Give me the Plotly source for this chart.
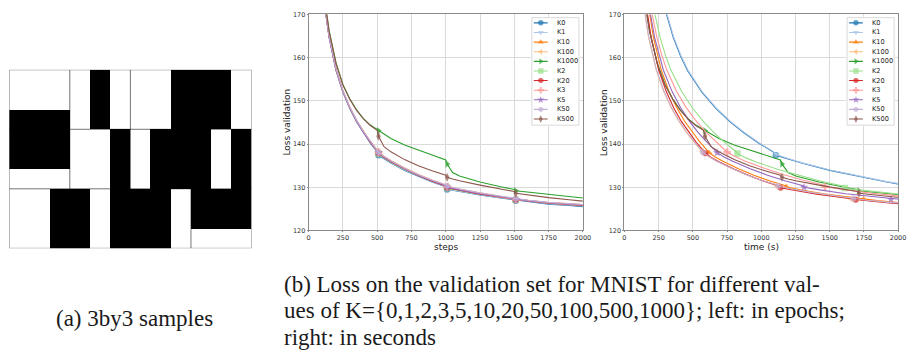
import plotly.graph_objects as go

W, H = 914, 353

# ---------------- data ----------------
STEPS = [100, 125, 150, 175, 200, 250, 300, 350, 400, 450, 500, 510, 550, 600, 700, 800,
         900, 1000, 1010, 1050, 1100, 1250, 1400, 1500, 1510, 1600, 1750, 1900, 2000]

SERIES = ["K0", "K1", "K10", "K100", "K1000", "K2", "K20", "K3", "K5", "K50", "K500"]

LOSS_K0 = [178.0, 170.2, 164.6, 160.4, 157.0, 152.0, 148.2, 145.1, 142.5, 140.2, 138.2, 137.4, 136.6, 135.6, 133.9, 132.5,
           131.2, 130.1, 129.5, 129.3, 129.0, 128.2, 127.5, 127.1, 126.9, 126.6, 126.1, 125.8, 125.5]
LOSS_K1 = [178.1, 170.3, 164.7, 160.5, 157.1, 152.1, 148.3, 145.2, 142.6, 140.3, 138.3, 137.6, 136.7, 135.7, 134.0, 132.6,
           131.3, 130.2, 129.7, 129.4, 129.1, 128.3, 127.6, 127.2, 127.0, 126.7, 126.2, 125.9, 125.7]
LOSS_K10 = [178.3, 170.4, 164.8, 160.7, 157.3, 152.3, 148.5, 145.4, 142.8, 140.5, 138.5, 138.0, 137.0, 136.0, 134.3, 132.8,
            131.5, 130.4, 130.1, 129.8, 129.4, 128.5, 127.8, 127.4, 127.2, 126.9, 126.4, 126.1, 125.9]
LOSS_K100 = [178.4, 170.5, 164.9, 160.8, 157.4, 152.4, 148.6, 145.5, 142.9, 140.7, 138.8, 138.3, 137.2, 136.2, 134.5, 133.0,
             131.7, 130.6, 130.3, 130.0, 129.6, 128.7, 127.9, 127.5, 127.3, 127.0, 126.5, 126.2, 126.0]
LOSS_K1000 = [180.0, 171.8, 166.2, 162.2, 158.8, 153.8, 150.5, 147.9, 145.9, 144.4, 143.4, 143.1, 142.2, 141.3, 139.8, 138.6,
              137.4, 136.3, 135.4, 133.4, 132.6, 131.2, 130.1, 129.5, 129.2, 128.9, 128.3, 127.8, 127.5]
LOSS_K2 = [178.2, 170.3, 164.7, 160.6, 157.2, 152.2, 148.4, 145.3, 142.7, 140.4, 138.4, 137.8, 136.8, 135.8, 134.1, 132.7,
           131.4, 130.3, 129.8, 129.5, 129.2, 128.4, 127.7, 127.3, 127.1, 126.8, 126.3, 126.0, 125.8]
LOSS_K20 = [178.2, 170.4, 164.8, 160.6, 157.2, 152.2, 148.4, 145.3, 142.7, 140.4, 138.4, 137.9, 136.9, 135.9, 134.2, 132.7,
            131.4, 130.3, 129.9, 129.6, 129.3, 128.4, 127.7, 127.3, 127.1, 126.8, 126.3, 126.0, 125.8]
LOSS_K3 = [178.3, 170.4, 164.8, 160.7, 157.3, 152.3, 148.5, 145.4, 142.8, 140.6, 138.6, 138.1, 137.1, 136.1, 134.4, 132.9,
           131.6, 130.5, 130.1, 129.8, 129.5, 128.6, 127.8, 127.4, 127.2, 126.9, 126.4, 126.1, 125.9]
LOSS_K5 = [178.2, 170.3, 164.7, 160.6, 157.2, 152.2, 148.4, 145.3, 142.7, 140.5, 138.5, 138.0, 137.0, 136.0, 134.3, 132.8,
           131.5, 130.4, 130.0, 129.7, 129.4, 128.5, 127.8, 127.4, 127.2, 126.9, 126.4, 126.1, 125.9]
LOSS_K50 = [178.4, 170.5, 164.9, 160.8, 157.4, 152.4, 148.6, 145.5, 142.9, 140.7, 138.7, 138.1, 137.1, 136.1, 134.4, 132.9,
            131.6, 130.6, 130.3, 130.0, 129.6, 128.7, 127.9, 127.5, 127.4, 127.0, 126.5, 126.2, 126.0]
LOSS_K500 = [179.8, 171.6, 166.0, 162.0, 158.6, 153.7, 150.4, 147.8, 145.8, 144.3, 143.2, 141.8, 139.4, 138.2, 136.4, 135.0,
             133.8, 132.8, 132.3, 131.9, 131.5, 130.5, 129.6, 129.0, 128.6, 128.2, 127.6, 127.1, 126.8]

LOSS = [LOSS_K0, LOSS_K1, LOSS_K10, LOSS_K100, LOSS_K1000, LOSS_K2,
        LOSS_K20, LOSS_K3, LOSS_K5, LOSS_K50, LOSS_K500]

# wall-clock: start offset (s) and seconds per step, per series
START_S = [46, 50, 42, 12, 15, 25, 30, 22, 30, 12, 15]
SEC_PER_STEP = [2.08, 2.075, 1.13, 1.09, 1.125, 1.57, 1.10, 1.43, 1.27, 1.10, 1.125]

MARK_STEPS = [510, 1010, 1510]

X_TICKS = [0, 250, 500, 750, 1000, 1250, 1500, 1750, 2000]
Y_TICKS = [120, 130, 140, 150, 160, 170]

# 3by3 binary samples: 3 rows x 4 columns of 3x3 images (1 = black)
SAMPLE_ROWS = [
    [0, 0, 0, 0, 1, 0, 0, 0, 1, 1, 1, 0],
    [0, 0, 0, 0, 1, 0, 0, 0, 1, 1, 1, 0],
    [1, 1, 1, 0, 1, 0, 0, 0, 1, 1, 1, 0],
    [1, 1, 1, 0, 0, 1, 0, 1, 1, 1, 0, 1],
    [1, 1, 1, 0, 0, 1, 0, 1, 1, 1, 0, 1],
    [0, 0, 0, 0, 0, 1, 0, 1, 1, 1, 0, 1],
    [0, 0, 1, 1, 0, 1, 1, 1, 0, 1, 1, 1],
    [0, 0, 1, 1, 0, 1, 1, 1, 0, 1, 1, 1],
    [0, 0, 1, 1, 0, 1, 1, 1, 0, 0, 0, 0],
]
SAMPLE_SIZE = 3

CAPTION_A = "(a) 3by3 samples"
CAPTION_B = ["(b) Loss on the validation set for MNIST for different val-",
             "ues of K={0,1,2,3,5,10,20,50,100,500,1000}; left: in epochs;",
             "right: in seconds"]

# ---------------- style ----------------
COLORS = ["#1f77b4", "#aec7e8", "#ff7f0e", "#ffbb78", "#2ca02c", "#98df8a",
          "#d62728", "#ff9896", "#9467bd", "#c5b0d5", "#8c564b"]
SYMBOLS = ["circle", "triangle-down", "triangle-up", "triangle-left", "triangle-right", "square",
           "octagon", "cross", "star", "hexagon", "diamond-tall"]


def px(x):
    return x / W


def py(y):
    return 1 - y / H


P1 = (310.0, 587.3)
P2 = (629.3, 906.0)
PT, PB = 10.7, 231.7

fig = go.Figure()

sizes = [6.5 if s in MARK_STEPS else 0 for s in STEPS]

for i, name in enumerate(SERIES):
    times = [START_S[i] + SEC_PER_STEP[i] * s for s in STEPS]
    for xs, xa, ya in ((STEPS, "x", "y"), (times, "x2", "y2")):
        fig.add_trace(go.Scatter(
            x=xs, y=LOSS[i], name=name, mode="lines+markers",
            line=dict(color=COLORS[i], width=1.1),
            marker=dict(symbol=SYMBOLS[i], size=sizes, color=COLORS[i], line=dict(width=0)),
            xaxis=xa, yaxis=ya, showlegend=False, hoverinfo="skip"))

# heatmap of samples
fig.add_trace(go.Heatmap(z=SAMPLE_ROWS, colorscale=[[0, "white"], [1, "black"]], zmin=0, zmax=1,
                         showscale=False, xaxis="x3", yaxis="y3", hoverinfo="skip"))

# custom legends (matplotlib-like compact legend boxes)
LEG_W, LEG_H = 47.6, 110.0
ROW0, ROWD = 5.3, 9.84
legend_axes = [("x4", "y4", P1[1] - 4 - LEG_W), ("x5", "y5", P2[1] - 4 - LEG_W)]
annotations = []
shapes = []
for xa, ya, left in legend_axes:
    for i, name in enumerate(SERIES):
        yy = ROW0 + ROWD * i
        fig.add_trace(go.Scatter(
            x=[2, 9, 16], y=[yy, yy, yy], mode="lines+markers",
            line=dict(color=COLORS[i], width=1.1),
            marker=dict(symbol=SYMBOLS[i], size=[0, 5.5, 0], color=COLORS[i], line=dict(width=0)),
            xaxis=xa, yaxis=ya, showlegend=False, hoverinfo="skip"))
        annotations.append(dict(x=23, y=yy, xref=xa, yref=ya, text=name, showarrow=False,
                                xanchor="left", yanchor="middle",
                                font=dict(family="DejaVu Sans", size=6.6, color="#222")))
    shapes.append(dict(type="rect", xref=xa, yref=ya, x0=0, x1=LEG_W, y0=0, y1=LEG_H,
                       line=dict(color="#cfcfcf", width=0.8), fillcolor="rgba(255,255,255,0.9)",
                       layer="below"))

# sample separators
n_rows, n_cols = len(SAMPLE_ROWS), len(SAMPLE_ROWS[0])
sep_line = dict(color="rgba(0,0,0,0.55)", width=1)
for k in range(1, n_cols // SAMPLE_SIZE):
    xv = k * SAMPLE_SIZE - 0.5
    shapes.append(dict(type="line", xref="x3", yref="y3", x0=xv, x1=xv, y0=-0.5, y1=n_rows - 0.5,
                       line=sep_line, layer="above"))
for k in range(1, n_rows // SAMPLE_SIZE):
    yv = k * SAMPLE_SIZE - 0.5
    shapes.append(dict(type="line", xref="x3", yref="y3", x0=-0.5, x1=n_cols - 0.5, y0=yv, y1=yv,
                       line=sep_line, layer="above"))
shapes.append(dict(type="rect", xref="x3", yref="y3", x0=-0.5, x1=n_cols - 0.5, y0=-0.5, y1=n_rows - 0.5,
                   line=dict(color="rgba(0,0,0,0.5)", width=1), layer="above"))

# axis titles
title_font = dict(family="DejaVu Sans", size=9, color="#222")
annotations += [
    dict(x=px(288.3), y=py((PT + PB) / 2), xref="paper", yref="paper", text="Loss validation",
         textangle=-90, showarrow=False, font=title_font, xanchor="center", yanchor="middle"),
    dict(x=px(609.5), y=py((PT + PB) / 2), xref="paper", yref="paper", text="Loss validation",
         textangle=-90, showarrow=False, font=title_font, xanchor="center", yanchor="middle"),
    dict(x=px((P1[0] + P1[1]) / 2), y=py(249), xref="paper", yref="paper", text="steps",
         showarrow=False, font=title_font, xanchor="center", yanchor="middle"),
    dict(x=px((P2[0] + P2[1]) / 2), y=py(249), xref="paper", yref="paper", text="time (s)",
         showarrow=False, font=title_font, xanchor="center", yanchor="middle"),
]

# captions
cap_font = dict(family="Liberation Serif", size=23, color="#1a1a1a")
annotations.append(dict(x=px(133.5), y=py(322), xref="paper", yref="paper", text=CAPTION_A,
                        showarrow=False, font=cap_font, xanchor="center", yanchor="middle"))
for j, line in enumerate(CAPTION_B):
    annotations.append(dict(x=px(283), y=py(287 + 27 * j), xref="paper", yref="paper", text=line,
                            showarrow=False, font=cap_font, xanchor="left", yanchor="middle"))

ax_style = dict(showgrid=True, gridcolor="#dadada", gridwidth=1, showline=True, linecolor="#8a8a8a",
                linewidth=1, mirror=True, ticks="outside", ticklen=1, tickcolor="#8a8a8a",
                tickfont=dict(family="DejaVu Sans", size=6.5, color="#333"), zeroline=False)

hidden = dict(visible=False, showgrid=False, zeroline=False)

fig.update_layout(
    width=W, height=H, margin=dict(l=0, r=0, t=0, b=0),
    paper_bgcolor="white", plot_bgcolor="white", showlegend=False,
    xaxis=dict(domain=[px(P1[0]), px(P1[1])], anchor="y", range=[0, 2000], tickvals=X_TICKS, **ax_style),
    yaxis=dict(domain=[py(PB), py(PT)], anchor="x", range=[120, 170], tickvals=Y_TICKS, **ax_style),
    xaxis2=dict(domain=[px(P2[0]), px(P2[1])], anchor="y2", range=[0, 2000], tickvals=X_TICKS, **ax_style),
    yaxis2=dict(domain=[py(PB), py(PT)], anchor="x2", range=[120, 170], tickvals=Y_TICKS, **ax_style),
    xaxis3=dict(domain=[px(7.3), px(252.3)], anchor="y3", range=[-0.5, n_cols - 0.5], **hidden),
    yaxis3=dict(domain=[py(250), py(67.3)], anchor="x3", range=[n_rows - 0.5, -0.5], **hidden),
    xaxis4=dict(domain=[px(legend_axes[0][2] - 1), px(legend_axes[0][2] + LEG_W + 1)], anchor="y4",
                range=[-1, LEG_W + 1], **hidden),
    yaxis4=dict(domain=[py(14 + LEG_H + 1), py(13)], anchor="x4", range=[LEG_H + 1, -1], **hidden),
    xaxis5=dict(domain=[px(legend_axes[1][2] - 1), px(legend_axes[1][2] + LEG_W + 1)], anchor="y5",
                range=[-1, LEG_W + 1], **hidden),
    yaxis5=dict(domain=[py(14 + LEG_H + 1), py(13)], anchor="x5", range=[LEG_H + 1, -1], **hidden),
    annotations=annotations,
    shapes=shapes,
)

fig.write_html("out.html")
